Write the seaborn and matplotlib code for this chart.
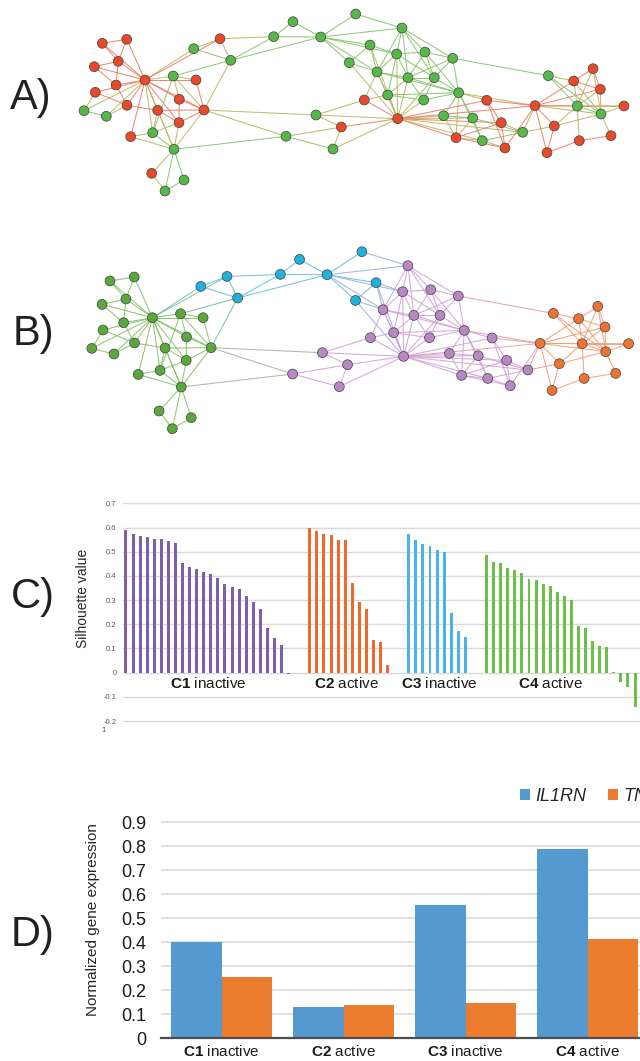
import numpy as np
import pandas as pd
import seaborn as sns
import matplotlib.pyplot as plt
from matplotlib.collections import LineCollection
from matplotlib import colors as mcolors

# ---- network layout (node positions, px of the layout), shared by A and B ----
node_x = [102.3, 126.7, 118.3, 94.3, 145.0, 116.0, 95.3, 84.0, 106.3, 127.0,
          173.3, 196.0, 179.3, 157.7, 204.0, 179.0, 152.7, 130.7, 174.0, 151.7,
          184.0, 165.0,
          193.7, 220.0, 230.7, 273.7, 293.0, 320.7, 355.7, 370.0, 349.3,
          316.0, 286.0, 341.3, 333.0, 402.0, 396.7, 425.0, 452.7, 377.0, 408.0,
          434.3, 387.7, 423.7, 458.7, 364.3, 397.7, 443.7, 472.7, 486.7, 501.3,
          456.0, 482.3, 505.0, 522.7,
          535.0, 547.0, 554.3, 548.3, 573.7, 593.0, 600.3, 577.3, 601.0, 624.0,
          611.0, 579.3]
node_y = [43.3, 39.3, 61.3, 66.7, 80.0, 85.0, 92.3, 110.7, 116.3, 105.3,
          76.0, 80.0, 99.3, 110.3, 110.0, 122.7, 132.7, 136.7, 149.3, 173.3,
          180.0, 191.0,
          48.7, 38.7, 60.3, 36.7, 21.7, 37.0, 14.0, 45.0, 62.7,
          115.0, 136.3, 127.0, 149.0, 28.0, 54.0, 52.0, 58.3, 72.0, 77.7,
          77.7, 95.0, 100.0, 92.7, 100.0, 118.7, 115.7, 118.0, 100.3, 122.7,
          137.7, 140.7, 148.0, 132.3,
          105.7, 152.7, 126.0, 75.7, 81.0, 68.7, 89.3, 106.0, 114.0, 106.0,
          135.7, 140.7]
# A: activity state of each node (R = red, G = green)
a_state = list("RRRRRRRGGRGRRRRRGRGRGG" + "GRGGGGGGG" +
               "GGRGGGGGGGGGGGRRGGRRRGRG" + "RRRGRRRGGRRR")
# B: cluster of each node
b_cluster = ["C4"] * 22 + ["C3"] * 9 + ["C1"] * 24 + ["C2"] * 12

edges = [(0, 1), (0, 2), (0, 4), (1, 2), (1, 4), (2, 3), (2, 4), (2, 5), (3, 4), (3, 5),
         (5, 4), (6, 9), (6, 4), (6, 7), (7, 8), (7, 4), (8, 4), (8, 9), (9, 4), (9, 5),
         (9, 13), (13, 14), (4, 10), (4, 11), (4, 12), (4, 13), (4, 14), (4, 15), (4, 16),
         (4, 17), (4, 18), (4, 22), (4, 23), (10, 11), (10, 12), (10, 14), (10, 24), (10, 16),
         (11, 14), (12, 14), (12, 15), (13, 15), (13, 16), (13, 18), (14, 15), (14, 18),
         (14, 24), (14, 31), (14, 32), (15, 18), (15, 16), (16, 17), (16, 18), (17, 18),
         (18, 19), (18, 20), (18, 21), (18, 32), (19, 21), (20, 21),
         (22, 23), (22, 24), (23, 24), (23, 25), (24, 25), (24, 27), (25, 26), (25, 27),
         (26, 27), (27, 28), (27, 30), (27, 35), (27, 36), (27, 39), (27, 29), (28, 35),
         (29, 30), (29, 36), (29, 39), (30, 39), (30, 46), (29, 46),
         (31, 45), (31, 46), (31, 33), (32, 33), (32, 34), (33, 34), (33, 46), (34, 46),
         (35, 36), (35, 37), (35, 38), (35, 39), (35, 40), (35, 41), (36, 37), (36, 39),
         (36, 40), (36, 41), (36, 42), (37, 38), (37, 40), (37, 41), (37, 44), (38, 40),
         (38, 41), (38, 44), (38, 58), (39, 40), (39, 42), (39, 44), (39, 46), (40, 41),
         (40, 42), (40, 43), (40, 44), (40, 46), (41, 43), (41, 44), (42, 43), (42, 44),
         (42, 46), (43, 44), (43, 46), (44, 47), (44, 48), (44, 51), (44, 52), (44, 55),
         (44, 49), (45, 46), (45, 39), (45, 42), (46, 47), (46, 48), (46, 49), (46, 50),
         (46, 51), (46, 52), (46, 54), (46, 55), (46, 36), (46, 41), (47, 51), (47, 48),
         (48, 52), (48, 51), (48, 54), (49, 50), (49, 55), (49, 53), (50, 53), (50, 51),
         (50, 54), (51, 52), (51, 53), (52, 53), (52, 54), (53, 55), (54, 55), (54, 57),
         (55, 56), (55, 57), (55, 59), (55, 62), (55, 63), (55, 64), (55, 61), (56, 57),
         (56, 66), (57, 62), (57, 63), (58, 59), (58, 62), (58, 63), (59, 60), (59, 61),
         (59, 62), (59, 63), (60, 61), (60, 63), (60, 62), (61, 62), (61, 63), (62, 63),
         (62, 64), (62, 66), (63, 64), (63, 65), (65, 66)]

# ---- silhouette values (panel C) ----
c1_sil = [0.590, 0.575, 0.564, 0.561, 0.553, 0.551, 0.545, 0.537, 0.455, 0.435, 0.430, 0.415,
          0.408, 0.390, 0.365, 0.356, 0.347, 0.317, 0.294, 0.262, 0.186, 0.145, 0.114, -0.005]
c2_sil = [0.599, 0.584, 0.572, 0.570, 0.550, 0.550, 0.369, 0.292, 0.262, 0.135, 0.128, 0.032]
c3_sil = [0.573, 0.548, 0.531, 0.525, 0.506, 0.499, 0.245, 0.174, 0.147]
c4_sil = [0.485, 0.459, 0.453, 0.434, 0.424, 0.413, 0.386, 0.384, 0.365, 0.357, 0.333,
          0.317, 0.302, 0.194, 0.185, 0.131, 0.110, 0.107, 0.004, -0.040, -0.058, -0.140]
sil_names = ["C1", "C2", "C3", "C4"]
sil_labels = [r"$\mathbf{C1}$ inactive", r"$\mathbf{C2}$ active",
              r"$\mathbf{C3}$ inactive", r"$\mathbf{C4}$ active"]

# ---- gene expression (panel D) ----
clusters = ["C1 inactive", "C2 active", "C3 inactive", "C4 active"]
il1rn = [0.400, 0.130, 0.555, 0.790]
tnf = [0.255, 0.138, 0.146, 0.413]
genes = ["IL1RN", "TNF"]

sns.set_theme(style="white")
plt.rcParams["font.family"] = ["Liberation Sans", "DejaVu Sans"]
plt.rcParams["mathtext.fontset"] = "custom"
plt.rcParams["mathtext.rm"] = "Liberation Sans"
plt.rcParams["mathtext.bf"] = "Liberation Sans:bold"
plt.rcParams["mathtext.it"] = "Liberation Sans:italic"

W, H = 640, 1061
fig = plt.figure(figsize=(W / 100, H / 100), dpi=100)


def px_axes(x0, y0, x1, y1):
    return fig.add_axes([x0 / W, 1 - y1 / H, (x1 - x0) / W, (y1 - y0) / H])


def blend(c1, c2):
    a = np.array(mcolors.to_rgb(c1))
    b = np.array(mcolors.to_rgb(c2))
    return tuple((a + b) / 2)


def draw_network(ax, groups, node_pal, edge_pal, mixed=None):
    segs = [[(node_x[i], node_y[i]), (node_x[j], node_y[j])] for i, j in edges]
    cols = []
    for i, j in edges:
        gi, gj = groups[i], groups[j]
        if gi == gj:
            cols.append(edge_pal[gi])
        elif mixed is not None:
            cols.append(mixed)
        else:
            cols.append(blend(edge_pal[gi], edge_pal[gj]))
    ax.add_collection(LineCollection(segs, colors=cols, linewidths=0.75, alpha=0.9, zorder=1))
    nodes = pd.DataFrame({"x": node_x, "y": node_y, "g": groups})
    sns.scatterplot(data=nodes, x="x", y="y", hue="g", palette=node_pal, s=50,
                    edgecolor="#404040", linewidth=0.5, legend=False, zorder=3, ax=ax)
    ax.set_xlim(0, 640)
    ax.set_ylim(210, 0)
    ax.set_axis_off()


# A
axa = px_axes(0, 0, 640, 210)
draw_network(axa, a_state, {"R": "#e8492a", "G": "#55b848"},
             {"R": "#f07a62", "G": "#84c46c"}, mixed="#bab662")

# B
axb = px_axes(8.3, 237.7, 644.5, 447.7)
draw_network(axb, b_cluster,
             {"C4": "#5aa83c", "C3": "#1fb2dc", "C1": "#b987c4", "C2": "#ef7232"},
             {"C4": "#86bf66", "C3": "#62bde0", "C1": "#cfa0d6", "C2": "#f39c72"})

# C: silhouette
rows = []
pos = 0
for name, vals in zip(sil_names, [c1_sil, c2_sil, c3_sil, c4_sil]):
    for v in vals:
        rows.append((pos, v, name))
        pos += 1
    pos += 2
sil = pd.DataFrame(rows, columns=["slot", "value", "cluster"])

axc = px_axes(123, 500.9, 640, 723.5)
sns.barplot(data=sil, x="slot", y="value", hue="cluster", native_scale=True, dodge=False,
            palette={"C1": "#7f5fa8", "C2": "#ee6a2c", "C3": "#48b4e8", "C4": "#6cc04a"},
            saturation=1, width=0.42, linewidth=0, errorbar=None, legend=False, ax=axc)
axc.set_xlim(-0.42, 72.7)
axc.set_ylim(-0.21, 0.71)
axc.set_yticks(np.arange(-0.2, 0.71, 0.1))
axc.set_yticklabels(["-0.2", "-0.1", "0", "0.1", "0.2", "0.3", "0.4", "0.5", "0.6", "0.7"])
axc.set_xticks([])
axc.yaxis.grid(True, color="#dadada", linewidth=1)
axc.set_axisbelow(True)
axc.tick_params(axis="y", length=0, pad=4.5, labelsize=5.5, labelcolor="#595959")
for s in axc.spines.values():
    s.set_visible(False)
axc.set_xlabel("")
axc.set_ylabel("")
fig.text(83 / W, 1 - 598 / H, "Silhouette value", rotation=90, ha="center", va="center",
         fontsize=10, color="#262626")
fig.text(104 / W, 1 - 731 / H, "1", ha="center", va="center", fontsize=5.5, color="#595959")
for lab, cx in zip(sil_labels, [208, 346, 439.5, 550.5]):
    fig.text(cx / W, 1 - 684 / H, lab, ha="center", va="center", fontsize=11, color="#1a1a1a")

# D: gene expression
expr = pd.DataFrame({"cluster": clusters * 2,
                     "gene": [genes[0]] * 4 + [genes[1]] * 4,
                     "value": il1rn + tnf})
axd = px_axes(160.5, 819.9, 648.5, 1038.3)
sns.barplot(data=expr, x="cluster", y="value", hue="gene",
            palette=["#5499cf", "#ec7d2f"], saturation=1, width=0.82, gap=0, linewidth=0,
            errorbar=None, ax=axd)
axd.set_xlim(-0.5, 3.5)
axd.set_ylim(0, 0.91)
axd.set_yticks(np.arange(0, 0.91, 0.1))
axd.set_yticklabels(["0", "0.1", "0.2", "0.3", "0.4", "0.5", "0.6", "0.7", "0.8", "0.9"])
axd.set_xticks(range(4))
axd.set_xticklabels(sil_labels)
axd.yaxis.grid(True, color="#dadada", linewidth=1.2)
axd.set_axisbelow(True)
axd.tick_params(axis="y", length=0, pad=10, labelsize=13, labelcolor="#1a1a1a")
axd.tick_params(axis="x", length=0, pad=4, labelsize=11, labelcolor="#1a1a1a")
for k, s in axd.spines.items():
    s.set_visible(k == "bottom")
axd.spines["bottom"].set_color("#4d4d4d")
axd.spines["bottom"].set_linewidth(1.6)
axd.set_xlabel("")
axd.set_ylabel("")
sns.move_legend(axd, "center left", bbox_to_anchor=(0.737, 1.109), ncol=2, frameon=False,
                title=None, borderaxespad=0, borderpad=0, handlelength=0.55, handleheight=0.55,
                handletextpad=0.3, columnspacing=1.2, prop={"style": "italic", "size": 13})
fig.text(93 / W, 1 - 920 / H, "Normalized gene expression", rotation=90, ha="center",
         va="center", fontsize=11, color="#262626")

# panel letters
for letter, (lx, ly) in zip(["A)", "B)", "C)", "D)"],
                            [(31, 98), (33, 334), (33, 597), (33, 935)]):
    fig.text(lx / W, 1 - ly / H, letter, ha="center", va="center", fontsize=30, color="#231f20")

fig.savefig("out.png", dpi=100)
